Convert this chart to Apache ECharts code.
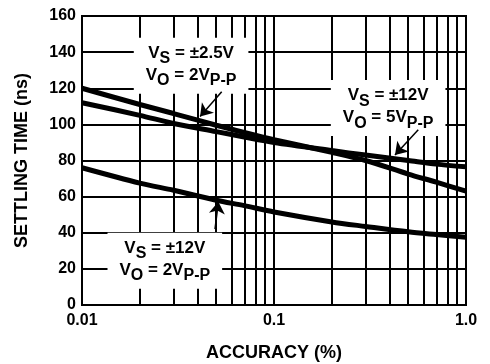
<!DOCTYPE html>
<html>
<head>
<meta charset="utf-8">
<script src="https://cdn.jsdelivr.net/npm/echarts@6/dist/echarts.min.js"></script>
<style>
  html, body { margin: 0; padding: 0; background: #fff; }
  #main { width: 490px; height: 364px; }
</style>
</head>
<body>
<div id="main"></div>
<script>
// 精度 (%) 与各条曲线对应的建立时间 (ns)
const accuracy = [0.01, 0.02, 0.03, 0.05, 0.07, 0.1, 0.2, 0.3, 0.5, 0.7, 1.0];
const timeVs25Vo2 = [120, 111, 106, 99.5, 95.5, 91.5, 84.5, 80, 72.5, 68, 63];
const timeVs12Vo5 = [112, 105, 100.5, 96, 93, 90, 85.5, 83, 80, 78, 76.5];
const timeVs12Vo2 = [76, 67.5, 63.5, 58, 55, 51.5, 46, 43.5, 40.5, 39, 37.5];

// 刻度
const xTickLabels = { 0.01: '0.01', 0.1: '0.1', 1: '1.0' };
const minorGrid = [0.02, 0.03, 0.04, 0.05, 0.06, 0.07, 0.08, 0.09, 0.2, 0.3, 0.4, 0.5, 0.6, 0.7, 0.8, 0.9];

// 标注文字位置 (数据坐标) 和箭头
const noteAt = [[0.037, 132.5], [0.393, 109], [0.027, 24.5]];
const noteText = [
  '{n|V}{s|S}{n| = ±2.5V}\n{n|V}{s|O}{n| = 2V}{s|P-P}',
  '{n|V}{s|S}{n| = ±12V}\n{n|V}{s|O}{n| = 5V}{s|P-P}',
  '{n|V}{s|S}{n| = ±12V}\n{n|V}{s|O}{n| = 2V}{s|P-P}'
];
const arrowFrom = [[0.0534, 118], [0.564, 97], [0.0493, 42]];
const arrowTo = [[0.0412, 104.3], [0.4267, 83.1], [0.0513, 57.2]];

function pairs(ys) {
  return accuracy.map((x, i) => [x, ys[i]]);
}

const font = 'Liberation Sans, Arial, Helvetica, sans-serif';

let myChart = echarts.init(document.getElementById('main'));

const curve = (ys) => ({
  type: 'line',
  data: pairs(ys),
  smooth: 0.3,
  symbol: 'none',
  lineStyle: { color: '#000', width: 5 },
  z: 3
});

myChart.setOption({
  animation: false,
  grid: {
    left: 82, right: 24, top: 16, bottom: 59,
    outerBoundsMode: 'none',
    containLabel: false,
    show: true, borderColor: '#000', borderWidth: 2
  },
  xAxis: {
    type: 'log',
    logBase: 10,
    min: 0.01,
    max: 1,
    name: 'ACCURACY (%)',
    nameLocation: 'middle',
    nameGap: 39,
    nameTextStyle: { fontFamily: font, fontWeight: 'bold', fontSize: 18, color: '#000' },
    axisLine: { lineStyle: { color: '#000', width: 2 } },
    axisTick: { show: false },
    axisLabel: {
      margin: 8,
      fontFamily: font, fontWeight: 'bold', fontSize: 16, color: '#000',
      formatter: (v) => xTickLabels[+v.toPrecision(3)] || ''
    },
    splitLine: { show: true, lineStyle: { color: '#000', width: 2 } }
  },
  yAxis: {
    type: 'value',
    min: 0,
    max: 160,
    interval: 20,
    name: 'SETTLING TIME (ns)',
    nameLocation: 'middle',
    nameGap: 51,
    nameTextStyle: { fontFamily: font, fontWeight: 'bold', fontSize: 18, color: '#000' },
    axisLine: { show: true, lineStyle: { color: '#000', width: 2 } },
    axisTick: { show: false },
    axisLabel: { margin: 6, fontFamily: font, fontWeight: 'bold', fontSize: 16, color: '#000' },
    splitLine: { lineStyle: { color: '#000', width: 2 } }
  },
  series: [
    // 次网格线
    {
      type: 'line',
      data: [],
      markLine: {
        silent: true,
        symbol: 'none',
        z: 1,
        label: { show: false },
        lineStyle: { color: '#000', width: 2, type: 'solid' },
        data: minorGrid.map(v => ({ xAxis: v }))
      }
    },
    curve(timeVs25Vo2),
    curve(timeVs12Vo5),
    curve(timeVs12Vo2),
    // 标注
    {
      type: 'line',
      data: [],
      z: 10,
      color: '#000',
      markPoint: {
        z: 10,
        silent: true,
        symbol: 'rect',
        symbolSize: 1,
        itemStyle: { color: 'rgba(0,0,0,0)' },
        label: {
          show: true,
          position: 'inside',
          backgroundColor: '#fff',
          padding: [7, 12, 5, 12],
          lineHeight: 22,
          rich: {
            n: { fontFamily: font, fontWeight: 'bold', fontSize: 17, color: '#000', verticalAlign: 'top', lineHeight: 22 },
            s: { fontFamily: font, fontWeight: 'bold', fontSize: 16, color: '#000', verticalAlign: 'top', lineHeight: 22, padding: [6, 0, 0, 0] }
          }
        },
        data: noteAt.map((c, i) => ({ coord: c, label: { formatter: noteText[i] } }))
      },
      markLine: {
        z: 11,
        silent: true,
        symbol: ['none', 'arrow'],
        symbolSize: 12,
        label: { show: false },
        itemStyle: { color: '#000' },
        lineStyle: { color: '#000', width: 1.5, type: 'solid', curveness: -0.25 },
        data: arrowFrom.map((c, i) => [{ coord: c }, { coord: arrowTo[i] }])
      }
    }
  ]
});
</script>
</body>
</html>
